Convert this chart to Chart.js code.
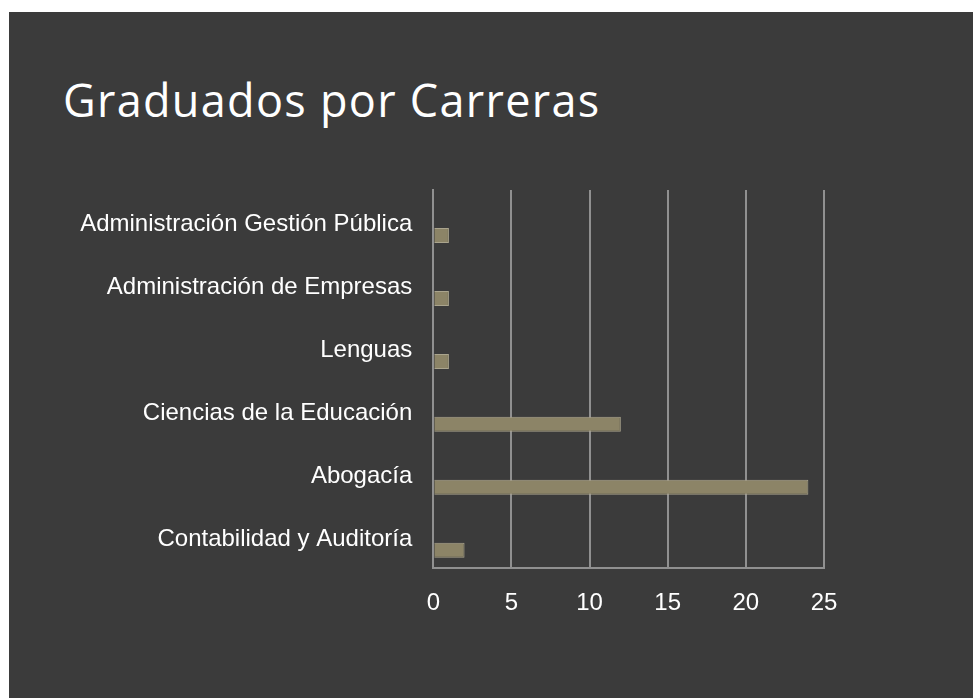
<!DOCTYPE html>
<html lang="es">
<head>
<meta charset="utf-8">
<title>Graduados por Carreras</title>
<script src="https://cdn.jsdelivr.net/npm/chart.js@4.4.1/dist/chart.umd.min.js"></script>
<style>
  html, body { margin: 0; padding: 0; background: #ffffff; }
  #slide {
    position: absolute; left: 9px; top: 12px;
    width: 964px; height: 686px;
    background: #3b3b3b; overflow: hidden;
  }
  #titulo {
    position: absolute; left: 54px; top: 65px;
    margin: 0; font-family: 'Open Sans', sans-serif; font-weight: 400;
    font-size: 45px; letter-spacing: 1.3px; line-height: 1; color: #ffffff; white-space: nowrap;
  }
  #grafico { position: absolute; left: 0; top: 0; }
</style>
</head>
<body>
<div id="slide">
  <h1 id="titulo">Graduados por Carreras</h1>
  <canvas id="grafico" width="964" height="686"></canvas>
</div>
<script>
// datos (de arriba hacia abajo)
const carreras = [
    'Administración Gestión Pública',
    'Administración de Empresas',
    'Lenguas',
    'Ciencias de la Educación',
    'Abogacía',
    'Contabilidad y Auditoría'
];
const graduados = [1, 1, 1, 12, 24, 2];
// serie vacía que ocupa la mitad superior de cada categoría (como en el original)
const serieVacia = [null, null, null, null, null, null];
const ticksX = [0, 5, 10, 15, 20, 25];

const colores = {
    barra: '#8c8467',
    bordeBarra: '#aaa48d',
    grid: '#909090',
    texto: '#ffffff'
};

Chart.defaults.font.family = "'Liberation Sans', Arial, sans-serif";
Chart.defaults.font.size = 24;
Chart.defaults.color = colores.texto;

new Chart(document.getElementById('grafico'), {
    type: 'bar',
    data: {
        labels: carreras,
        datasets: [
            { label: '', data: serieVacia },
            {
                label: 'Graduados',
                data: graduados,
                backgroundColor: colores.barra,
                borderColor: colores.bordeBarra,
                borderWidth: 1
            }
        ]
    },
    options: {
        indexAxis: 'y',
        responsive: false,
        animation: false,
        categoryPercentage: 0.9,
        barPercentage: 0.53,
        layout: { padding: { top: 178, right: 149, left: 0, bottom: 0 } },
        plugins: { legend: { display: false }, tooltip: { enabled: false } },
        scales: {
            x: {
                min: ticksX[0],
                max: ticksX[ticksX.length - 1],
                afterBuildTicks: function(scale) {
                    scale.ticks = ticksX.map(v => ({ value: v }));
                },
                afterFit: function(scale) { scale.height = 130.5; },
                grid: { color: colores.grid, lineWidth: 2, drawTicks: false },
                border: { display: true, color: colores.grid, width: 2 },
                ticks: { padding: 21, color: colores.texto }
            },
            y: {
                afterFit: function(scale) { scale.width = 424.3; },
                grid: { display: false, drawTicks: false },
                border: { display: true, color: colores.grid, width: 2 },
                ticks: { padding: 21, labelOffset: 3, color: colores.texto }
            }
        }
    }
});
</script>
</body>
</html>
